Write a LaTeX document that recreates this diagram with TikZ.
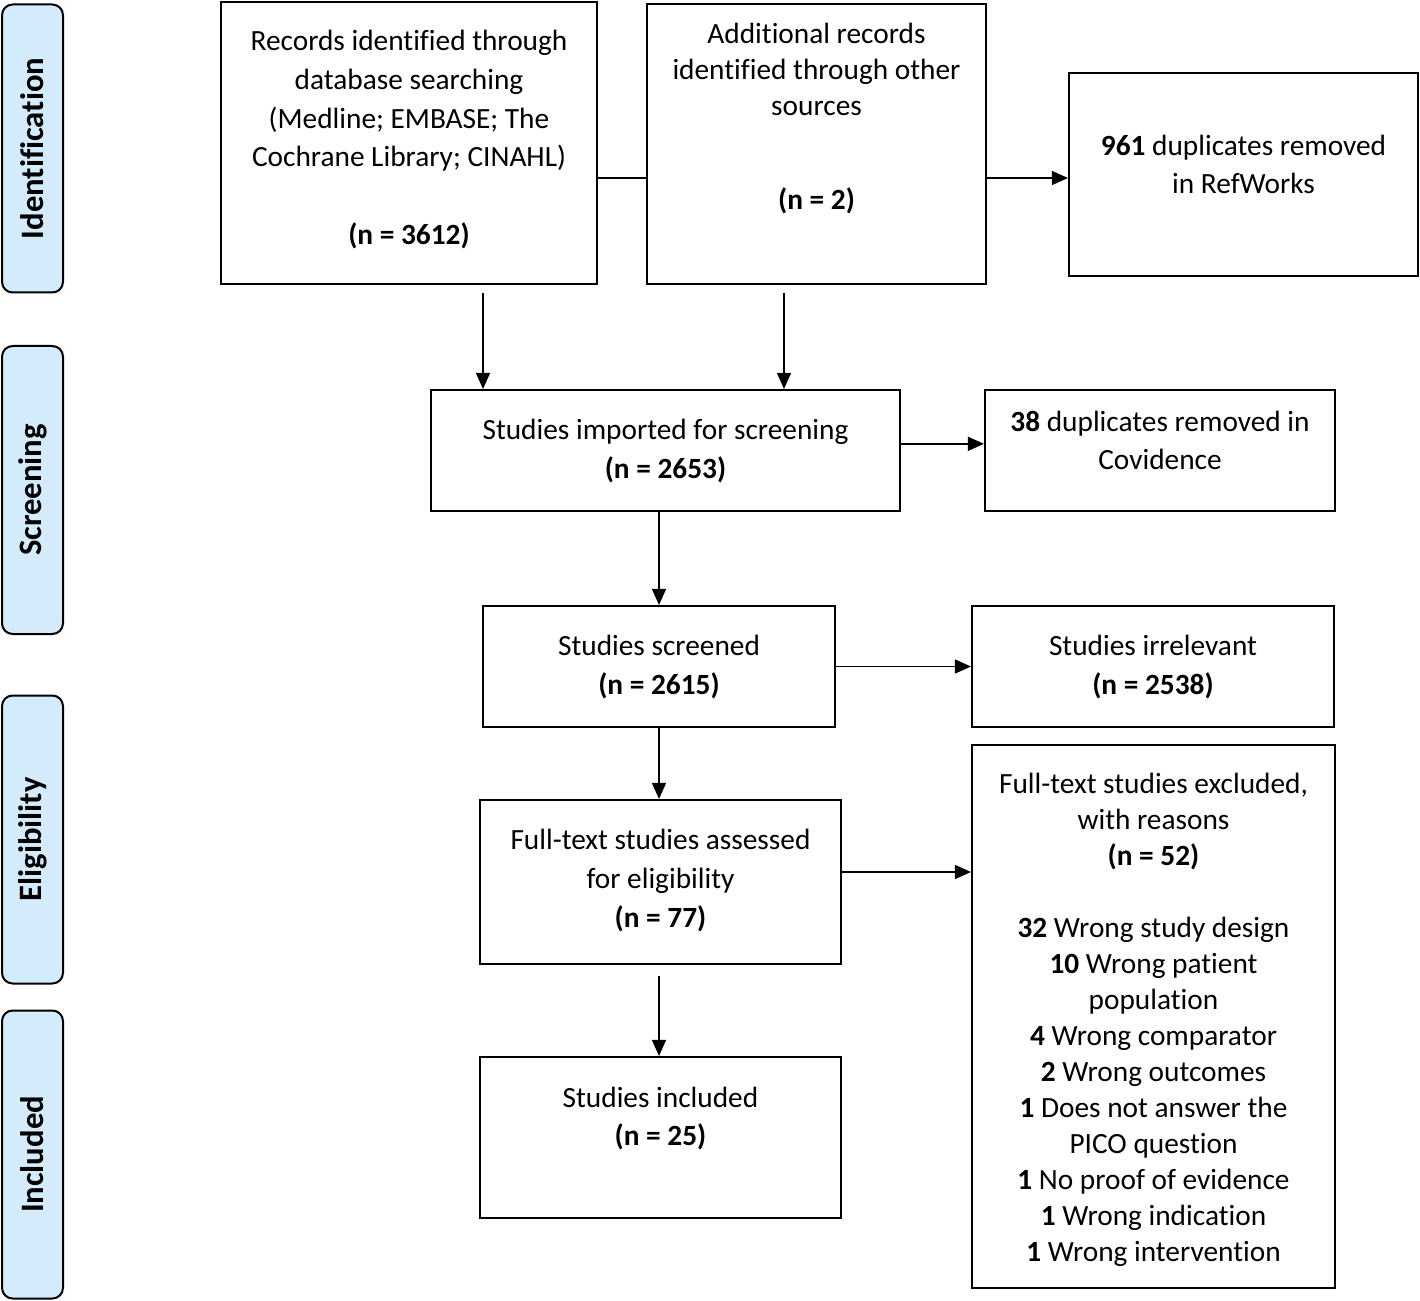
\documentclass[tikz,border=0pt]{standalone}
\usepackage{fontspec}
\setmainfont{Carlito}[Ligatures=NoCommon]
\usetikzlibrary{arrows.meta}
\definecolor{stageblue}{RGB}{212,235,252}

\begin{document}
\begin{tikzpicture}[x=0.75pt,y=0.75pt,yscale=-1,xscale=1,
  box/.style={draw, line width=1.6pt, inner sep=0pt},
  stage/.style={draw, line width=1.5pt, rounded corners=8pt, fill=stageblue, rotate=90, minimum width=216pt, minimum height=45.75pt, inner sep=0pt, font=\fontsize{24.5}{29}\selectfont\bfseries},
  txt/.style={inner sep=0pt, align=center, font=\fontsize{22}{29}\selectfont},
  txtb/.style={inner sep=0pt, align=center, font=\fontsize{22}{27}\selectfont},
  arr/.style={line width=1.1pt, -{Triangle[length=12pt,width=10.5pt]}}]
\useasboundingbox (0,0) rectangle (1420,1301);

%Stages
\node [stage] (stident) at (32.5,148.5) {Identification};
\node [stage] (stscreen) at (32.5,490) {Screening};
\node [stage] (stelig) at (32.5,839.5) {Eligibility};
\node [stage] (stincl) at (32.5,1154.5) {Included};

%Boxes
\node [box, minimum width=282pt, minimum height=211.5pt] (records) at (409,143) {};
\node [box, minimum width=254.25pt, minimum height=210pt] (additional) at (816.5,144) {};
\node [box, minimum width=261.75pt, minimum height=152.25pt] (dupref) at (1243.5,174.5) {};
\node [box, minimum width=351.75pt, minimum height=90.75pt] (imported) at (665.5,450.5) {};
\node [box, minimum width=262.5pt, minimum height=90.75pt] (dupcov) at (1160,450.5) {};
\node [box, minimum width=264pt, minimum height=90.75pt] (screened) at (659,666.5) {};
\node [box, minimum width=271.5pt, minimum height=90.75pt] (irrelevant) at (1153,666.5) {};
\node [box, minimum width=270.75pt, minimum height=123pt] (fulltext) at (660.5,882) {};
\node [box, minimum width=272.25pt, minimum height=407.25pt] (excluded) at (1153.5,1016.5) {};
\node [box, minimum width=270.75pt, minimum height=120.75pt] (included) at (660.5,1137.5) {};

% Text Node
\node [txt] (rectxt) at (409,139.5) {Records identified through\\database searching\\(Medline; EMBASE; The\\Cochrane Library; CINAHL)\\[29pt]\textbf{(n = 3612)}};
% Text Node
\node [txtb] (addtxt) at (816.5,118.5) {Additional records\\identified through other\\sources\\[43pt]\textbf{(n = 2)}};
% Text Node
\node [txt] (dupreftxt) at (1243.5,164.5) {\textbf{961} duplicates removed\\in RefWorks};
% Text Node
\node [txt] (imptxt) at (665.5,451) {Studies imported for screening\\\textbf{(n = 2653)}};
% Text Node
\node [txt] (dupcovtxt) at (1160,440.5) {\textbf{38} duplicates removed in\\Covidence};
% Text Node
\node [txt] (scrtxt) at (659,667) {Studies screened\\\textbf{(n = 2615)}};
% Text Node
\node [txt] (irrtxt) at (1153,667) {Studies irrelevant\\\textbf{(n = 2538)}};
% Text Node
\node [txt] (fulltxt) at (660.5,880.5) {Full-text studies assessed\\for eligibility\\\textbf{(n = 77)}};
% Text Node
\node [txtb] (excltxt) at (1153.5,1020) {Full-text studies excluded,\\with reasons\\\textbf{(n = 52)}\\[27pt]\textbf{32} Wrong study design\\\textbf{10} Wrong patient\\population\\\textbf{4} Wrong comparator\\\textbf{2} Wrong outcomes\\\textbf{1} Does not answer the\\PICO question\\\textbf{1} No proof of evidence\\\textbf{1} Wrong indication\\\textbf{1} Wrong intervention};
% Text Node
\node [txt] (incltxt) at (660.5,1118.5) {Studies included\\\textbf{(n = 25)}};

%Connectors
\coordinate (idline) at (622,178);
\draw [line width=1.1pt] (records.east |- idline) -- (additional.west |- idline);
\draw [arr] (additional.east |- idline) -- (dupref.west |- idline);
\coordinate (drop1) at (483,293);
\coordinate (drop2) at (784,293);
\draw [arr] (drop1) -- (drop1 |- imported.north);
\draw [arr] (drop2) -- (drop2 |- imported.north);
\draw [arr] ([yshift=-5pt]imported.east) -- ([yshift=-5pt]dupcov.west);
\draw [arr] (imported.south -| screened.north) -- (screened.north);
\draw [arr] (screened.east) -- (irrelevant.west);
\draw [arr] (screened.south) -- (screened.south |- fulltext.north);
\draw [arr] ([yshift=-7.5pt]fulltext.east) -- ([yshift=-7.5pt]fulltext.east -| excluded.west);
\coordinate (drop3) at (659,976);
\draw [arr] (drop3) -- (drop3 |- included.north);

\end{tikzpicture}
\end{document}
